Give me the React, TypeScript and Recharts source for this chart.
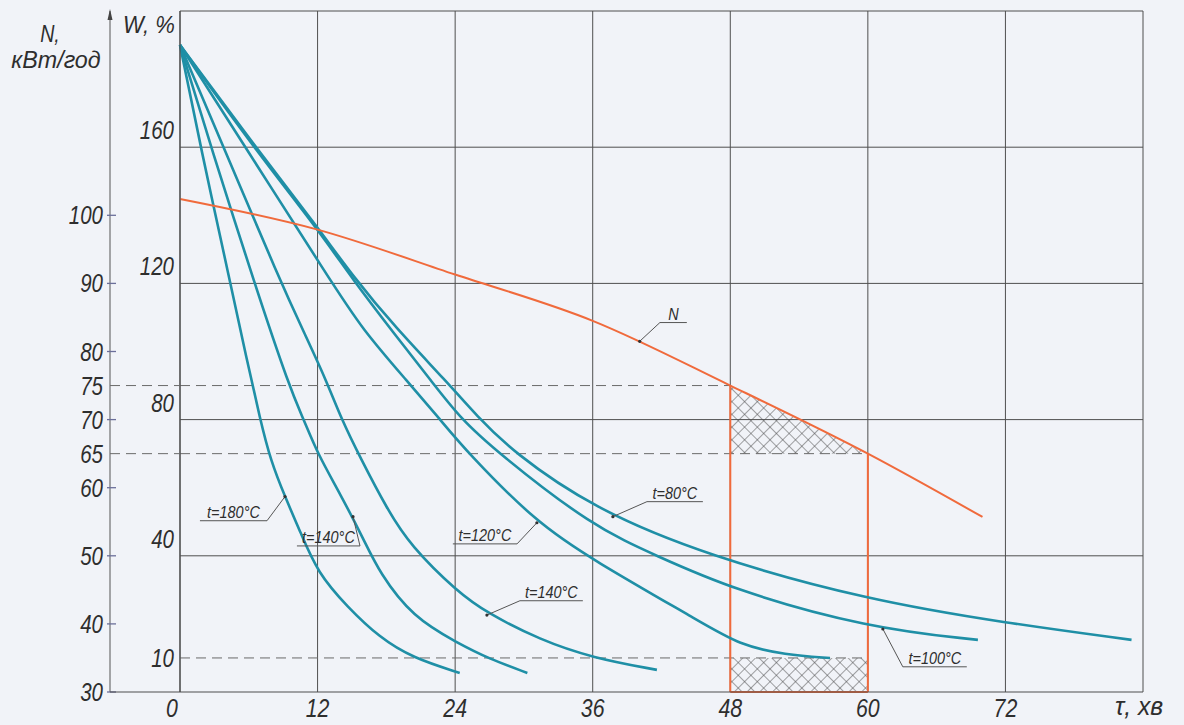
import React from "react"
import { ComposedChart, Line, Area, XAxis, YAxis, CartesianGrid, ReferenceLine, ReferenceDot } from "recharts"

// axes
const TAU_TICKS = [0, 12, 24, 36, 48, 60, 72, 84]
const W_TICKS = [10, 40, 80, 120, 160]
const W_GRID = [40, 80, 120, 160, 200]
const N_TICKS = [30, 40, 50, 60, 65, 70, 75, 80, 90, 100]

// W, % over τ, хв
const TAU_180 = [0, 1.8, 4.4, 5.8, 7.0, 7.9, 9.2, 10.5, 12.0, 14.6, 17.4, 20.3, 24.4]
const W_180 = [190, 160, 120, 98, 80, 68, 57, 47, 35, 25, 16, 10, 5.6]

const TAU_140A = [0, 2.8, 6.5, 9.6, 10.8, 12.0, 14.0, 16.0, 17.4, 20.3, 24.2, 27.0, 30.3]
const W_140A = [190, 159, 120, 89, 80, 70, 58, 45, 35, 22, 14.4, 9.7, 5.6]

const TAU_140B = [0, 3.8, 8.7, 10.9, 12.7, 14.1, 15.7, 18.1, 20.1, 24.2, 26.8, 31.4, 36.0, 41.6]
const W_140B = [190, 160, 121, 105, 92, 80, 69, 53.5, 43, 29.4, 23.2, 15.3, 10, 6.5]

const TAU_120 = [0, 5.7, 13.1, 15.9, 19.9, 22.7, 25.0, 31.1, 36.0, 45.4, 48.8, 52.8, 56.7]
const W_120 = [190, 160, 121, 106.5, 91, 80, 70.6, 49.7, 38.8, 20.6, 13.8, 10.9, 10]

const TAU_100 = [0, 6.4, 12.0, 15.1, 18.6, 22.0, 24.4, 27.6, 36.0, 41.6, 48.0, 60.0, 69.6]
const W_100 = [190, 160, 136, 121, 105.6, 91, 80.6, 70.6, 48.5, 40, 30.3, 18.8, 15.3]

const TAU_80 = [0, 6.6, 12.0, 15.1, 18.8, 23.3, 25.9, 29.0, 36.0, 46.0, 60.0, 72.0, 83.0]
const W_80 = [190, 160, 136.5, 122, 107, 91, 81, 70.6, 54, 40, 27, 20.3, 15.3]

// N, кВт/год over τ, хв
const TAU_N = [0, 12, 24, 36, 48, 60, 70]
const N_VALUES = [102.4, 97.9, 91.3, 84.5, 75, 65, 55.7]

// marked interval
const MARK_TAU = [48, 60]
const MARK_N = [75, 65]
const MARK_W = [0, 10]

// curve captions
const CAP_TEXT = ["t=180°C", "t=140°C", "t=120°C", "t=140°C", "t=80°C", "t=100°C", "N"]
const CAP_POINT_TAU = [9.16, 15.09, 31.13, 26.77, 37.76, 61.31, 40.1]
const CAP_POINT_W = [57.4, 51.5, 49.7, 22.6, 51.5, 18.5, 103]
const CAP_FROM = [1.74, 10.2, 23.8, 29.65, 40.73, 63.05, 41.86]
const CAP_TO = [7.59, 15.7, 29.4, 35.14, 45.61, 68.63, 44.21]
const CAP_W = [50.3, 42.9, 43.5, 26.8, 55.9, 7.4, 108.5]

const pts = (taus: number[], vals: number[], key = "w") => taus.map((tau, i) => ({ tau, [key]: vals[i] }))

const CURVES = [
  pts(TAU_180, W_180),
  pts(TAU_140A, W_140A),
  pts(TAU_140B, W_140B),
  pts(TAU_120, W_120),
  pts(TAU_100, W_100),
  pts(TAU_80, W_80),
]

// axis ids: W sits next to the plot, N outside it
const W_ID = "a"
const N_ID = "b"

const FONT = "'Liberation Sans', Arial, sans-serif"
const INK = "#2e2e2e"
const GRID = "#4f4f4f"
const TEAL = "#1f8fa6"
const ORANGE = "#f06a3c"
const DASH = "10 6"

function CondText({ x, y, size, anchor = "middle", scale = 0.82, children }: any) {
  return (
    <g transform={`translate(${x},${y}) scale(${scale},1)`}>
      <text x={0} y={0} fontSize={size} fontStyle="italic" fontFamily={FONT} textAnchor={anchor} fill={INK}>
        {children}
      </text>
    </g>
  )
}

function TauTick({ x, y, payload }: any) {
  const v = payload.value
  if (v === 84) {
    return <CondText x={x - 28} y={y + 23} size={26} anchor="start" scale={0.95}>τ, хв</CondText>
  }
  return <CondText x={v === 0 ? x - 8 : x} y={y + 25} size={26}>{v}</CondText>
}

function WTick({ x, y, payload }: any) {
  const v = payload.value
  const dy = v === 10 ? 0 : -17
  return <CondText x={x - 6} y={y + dy + 9} size={25} anchor="end">{v}</CondText>
}

function NTick({ x, y, payload }: any) {
  const v = payload.value
  const dashed = v === 65 || v === 75
  return (
    <g>
      <CondText x={x - 7} y={y + 9} size={25} anchor="end">{v}</CondText>
      {!dashed && <line x1={x - 3} x2={x + 6} y1={y} y2={y} stroke="#6b6f9a" strokeWidth={1.3} />}
      {dashed && <line x1={x} x2={x + 70} y1={y} y2={y} stroke="#6a6a6a" strokeDasharray={DASH} />}
      {v === 30 && <line x1={x} x2={x + 70} y1={y} y2={y} stroke={GRID} strokeWidth={1.2} />}
    </g>
  )
}

function NTitle({ viewBox }: any) {
  const ax = viewBox.x + viewBox.width
  const top = viewBox.y
  return (
    <g>
      <path d={`M${ax},${top - 2} L${ax - 2.5},${top + 9} L${ax + 2.5},${top + 9} Z`} fill="#444" />
      <CondText x={ax - 60} y={top + 31} size={24}>N,</CondText>
      <CondText x={ax - 54} y={top + 57} size={24} scale={0.97}>кВт/год</CondText>
    </g>
  )
}

function WTitle({ viewBox }: any) {
  return <CondText x={viewBox.x + 13} y={viewBox.y + 22} size={24} anchor="start" scale={0.92}>W, %</CondText>
}

export default function App() {
  const triangle = MARK_TAU.map((tau, i) => ({ tau, r: [MARK_N[1], MARK_N[i]] }))
  const rect = MARK_TAU.map((tau) => ({ tau, r: MARK_W }))

  return (
    <div style={{ position: "absolute", left: 0, top: 0, width: 1184, height: 725, background: "#f1f3f8" }}>
      <ComposedChart width={1184} height={725} margin={{ top: 11, right: 41, bottom: 0, left: 0 }}>
        <defs>
          <pattern id="hatch" width="9" height="9" patternUnits="userSpaceOnUse" patternTransform="rotate(45)">
            <path d="M0 0 L0 9 M0 0 L9 0" stroke="#4a4a4a" strokeWidth={1} />
          </pattern>
        </defs>
        <XAxis
          dataKey="tau"
          type="number"
          domain={[0, 84]}
          ticks={TAU_TICKS}
          interval={0}
          height={33}
          tickSize={0}
          tickMargin={0}
          tickLine={false}
          axisLine={{ stroke: GRID, strokeWidth: 1.2 }}
          tick={(p: any) => <TauTick {...p} />}
        />
        <YAxis
          yAxisId={W_ID}
          type="number"
          domain={[0, 200]}
          ticks={W_TICKS}
          interval={0}
          width={70}
          tickSize={0}
          tickMargin={0}
          tickLine={false}
          axisLine={{ stroke: GRID, strokeWidth: 1.2 }}
          tick={(p: any) => <WTick {...p} />}
          label={(p: any) => <WTitle {...p} />}
        />
        <YAxis
          yAxisId={N_ID}
          type="number"
          domain={[30, 130]}
          ticks={N_TICKS}
          interval={0}
          width={110}
          tickSize={0}
          tickMargin={0}
          tickLine={false}
          axisLine={{ stroke: "#555", strokeWidth: 1 }}
          tick={(p: any) => <NTick {...p} />}
          label={(p: any) => <NTitle {...p} />}
        />
        <CartesianGrid yAxisId={W_ID} horizontal={false} stroke={GRID} strokeWidth={1} />
        {W_GRID.map((w) => (
          <ReferenceLine key={"g" + w} yAxisId={W_ID} y={w} stroke={GRID} strokeWidth={1} />
        ))}

        <Area data={triangle} dataKey="r" yAxisId={N_ID} type="linear" stroke="none" fill="url(#hatch)" fillOpacity={1} isAnimationActive={false} />
        <Area data={rect} dataKey="r" yAxisId={W_ID} type="linear" stroke="none" fill="url(#hatch)" fillOpacity={1} isAnimationActive={false} />

        {MARK_TAU.map((tau, i) => (
          <ReferenceLine
            key={"dn" + tau}
            yAxisId={N_ID}
            segment={[{ x: 0, y: MARK_N[i] }, { x: tau, y: MARK_N[i] }]}
            stroke="#6a6a6a"
            strokeDasharray={DASH}
          />
        ))}
        <ReferenceLine yAxisId={W_ID} segment={[{ x: 0, y: MARK_W[1] }, { x: MARK_TAU[1], y: MARK_W[1] }]} stroke="#6a6a6a" strokeDasharray={DASH} />

        {MARK_TAU.map((tau, i) => (
          <ReferenceLine
            key={"v" + tau}
            yAxisId={N_ID}
            segment={[{ x: tau, y: MARK_N[i] }, { x: tau, y: 30 }]}
            stroke={ORANGE}
            strokeWidth={2}
          />
        ))}
        <ReferenceLine yAxisId={W_ID} segment={[{ x: MARK_TAU[0], y: 0 }, { x: MARK_TAU[1], y: 0 }]} stroke={ORANGE} strokeWidth={2} />

        {CURVES.map((d, i) => (
          <Line key={"c" + i} data={d} dataKey="w" yAxisId={W_ID} type="basis" stroke={TEAL} strokeWidth={2.6} dot={false} isAnimationActive={false} />
        ))}
        <Line data={pts(TAU_N, N_VALUES, "n")} dataKey="n" yAxisId={N_ID} type="monotone" stroke={ORANGE} strokeWidth={2} dot={false} isAnimationActive={false} />

        {CAP_TEXT.map((t, i) => {
          const end = Math.abs(CAP_POINT_TAU[i] - CAP_FROM[i]) < Math.abs(CAP_POINT_TAU[i] - CAP_TO[i]) ? CAP_FROM[i] : CAP_TO[i]
          return (
            <React.Fragment key={"cap" + i}>
              <ReferenceLine yAxisId={W_ID} segment={[{ x: CAP_FROM[i], y: CAP_W[i] }, { x: CAP_TO[i], y: CAP_W[i] }]} stroke="#555" strokeWidth={1} />
              <ReferenceLine yAxisId={W_ID} segment={[{ x: end, y: CAP_W[i] }, { x: CAP_POINT_TAU[i], y: CAP_POINT_W[i] }]} stroke="#555" strokeWidth={1} />
              <ReferenceDot yAxisId={W_ID} x={CAP_POINT_TAU[i]} y={CAP_POINT_W[i]} r={1.6} fill="#333" stroke="none" />
              <ReferenceDot
                yAxisId={W_ID}
                x={(CAP_FROM[i] + CAP_TO[i]) / 2}
                y={CAP_W[i]}
                r={0}
                shape={(p: any) => <CondText x={p.cx} y={p.cy - 3} size={17} scale={0.85}>{t}</CondText>}
              />
            </React.Fragment>
          )
        })}
      </ComposedChart>
    </div>
  )
}
